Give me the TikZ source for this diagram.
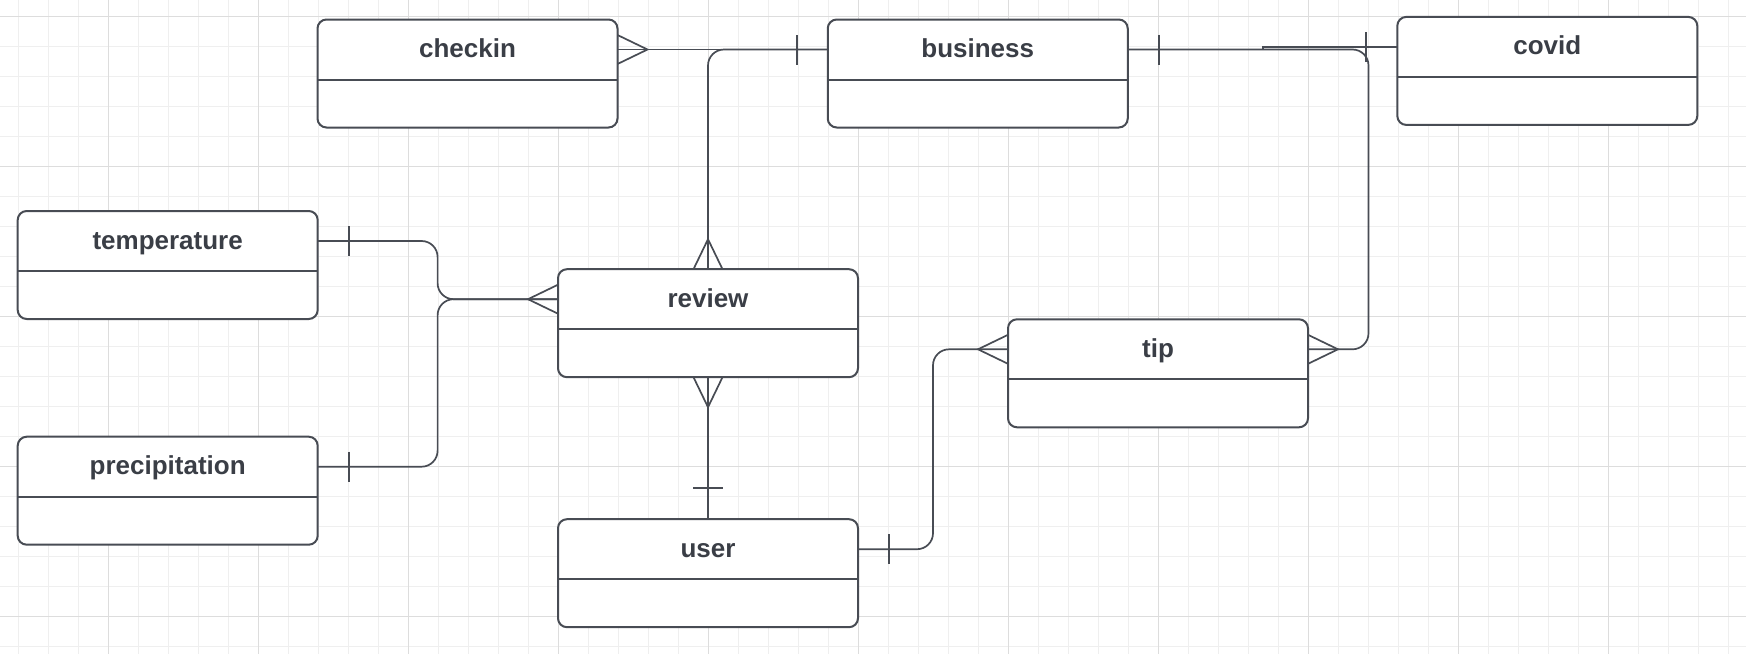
\documentclass[tikz,border=0pt]{standalone}
\usepackage{fontspec}
\setmainfont{Liberation Sans}
\definecolor{gridminor}{HTML}{EFEFEF}
\definecolor{gridmajor}{HTML}{DDDDDD}
\definecolor{ink}{HTML}{484C54}
\definecolor{textink}{HTML}{3A3E46}
\newcommand\erbox[3]{%
  \node[entity] (#1) at (#2) {};
  \node[title] (#1-t) at ([yshift=-38pt]#1.north) {#3};
  \draw[divider] ([yshift=-60pt]#1.north west) -- ([yshift=-60pt]#1.north east);
  \coordinate (#1-l) at ([yshift=-30pt]#1.north west);
  \coordinate (#1-r) at ([yshift=-30pt]#1.north east);
}
\begin{document}
\begin{tikzpicture}[x=1pt,y=-1pt,
  minor/.style={draw=gridminor, line width=1pt},
  major/.style={draw=gridmajor, line width=1pt},
  conn/.style={draw=ink, line width=1.7pt},
  divider/.style={draw=ink, line width=2pt},
  entity/.style={draw=ink, line width=2pt, fill=white, rounded corners=9pt,
    minimum width=300pt, minimum height=108pt, inner sep=0pt, outer sep=0pt},
  title/.style={font=\fontsize{26}{30}\selectfont\bfseries, text=textink, anchor=base, inner sep=0pt},
  crowmany/.pic={\draw[conn] (0,-14.5) -- (30,0) -- (0,14.5);},
  crowone/.pic={\draw[conn] (31,-15) -- (31,15);}
]
\useasboundingbox (0,0) rectangle (1746,654);
\fill[white] (0,0) rectangle (1746,654);
% grid
\foreach \x in {18.5,48.5,...,1740} \draw[minor] (\x,0) -- (\x,654);
\foreach \y in {16,46,...,654} \draw[minor] (0,\y) -- (1746,\y);
\foreach \x in {108.5,258.5,...,1740} \draw[major] (\x,0) -- (\x,654);
\foreach \y in {16,166,...,654} \draw[major] (0,\y) -- (1746,\y);
% entities
\erbox{checkin}{467.5,73.5}{checkin}
\erbox{business}{977.75,73.5}{business}
\erbox{covid}{1547.3,70.9}{covid}
\erbox{temperature}{167.7,265}{temperature}
\erbox{precipitation}{167.7,490.7}{precipitation}
\erbox{review}{708,323.2}{review}
\erbox{user}{708,573.2}{user}
\erbox{tip}{1158,373.3}{tip}
% junction columns
\coordinate (jL) at (437.6,0);
\coordinate (jU) at (933,0);
\coordinate (jC) at (1262.8,0);
\coordinate (jT) at (1368.5,0);
% connectors
\draw[conn] (checkin-r) -- (business-l);
\draw[conn, rounded corners=16pt] (business-l) -| (review.north);
\draw[conn, rounded corners=16pt] (temperature-r) -| (jL |- review-l) -- (review-l);
\draw[conn, rounded corners=16pt] (precipitation-r) -| (jL |- review-l) -- (review-l);
\draw[conn] (review.south) -- (user.north);
\draw[conn, rounded corners=16pt] (user-r) -| (jU |- tip-l) -- (tip-l);
\draw[conn, rounded corners=16pt] (business-r) -| (jT |- tip-r) -- (tip-r);
\draw[conn] (business-r) -- (jC |- business-r) -- (jC |- covid-l) -- (covid-l);
% ends
\pic at (checkin-r) {crowmany};
\pic[rotate=180] at (review-l) {crowmany};
\pic[rotate=90] at (review.north) {crowmany};
\pic[rotate=-90] at (review.south) {crowmany};
\pic[rotate=180] at (tip-l) {crowmany};
\pic at (tip-r) {crowmany};
\pic[rotate=180] at (business-l) {crowone};
\pic at (business-r) {crowone};
\pic[rotate=180] at (covid-l) {crowone};
\pic at (temperature-r) {crowone};
\pic at (precipitation-r) {crowone};
\pic at (user-r) {crowone};
\pic[rotate=90] at (user.north) {crowone};
\end{tikzpicture}
\end{document}
